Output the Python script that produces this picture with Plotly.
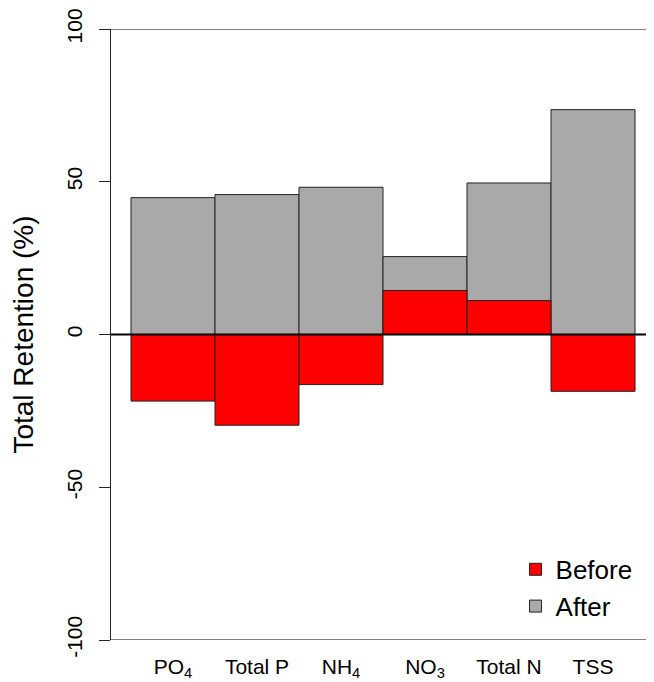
import plotly.graph_objects as go

categories = ["PO<sub>4</sub>", "Total P", "NH<sub>4</sub>", "NO<sub>3</sub>", "Total N", "TSS"]
after = [44.8, 45.8, 48.2, 25.5, 49.6, 73.6]
before = [-21.8, -29.7, -16.4, 14.4, 11.1, -18.6]
y_ticks = [-100, -50, 0, 50, 100]

x = list(range(len(categories)))

fig = go.Figure()
fig.add_trace(go.Bar(x=x, y=after, name="After", width=1,
                     marker=dict(color="#A9A9A9", line=dict(color="#222222", width=1))))
fig.add_trace(go.Bar(x=x, y=before, name="Before", width=1,
                     marker=dict(color="#FF0000", line=dict(color="#222222", width=1))))

# page body has an 8px default margin, so the figure is sized to fill the rest of the window
fig.update_layout(
    width=646, height=674,
    margin=dict(l=103, r=0, t=21, b=42, autoexpand=False),
    barmode="overlay",
    plot_bgcolor="white", paper_bgcolor="white",
    font=dict(family="Liberation Sans, Arial, sans-serif", color="black"),
    showlegend=True,
    legend=dict(x=0.745, y=0.154, xanchor="left", yanchor="top",
                traceorder="reversed", font=dict(size=26),
                bgcolor="rgba(0,0,0,0)", itemwidth=30, tracegroupgap=0),
    xaxis=dict(range=[-0.738, 5.726], tickmode="array", tickvals=x, ticktext=categories,
               showline=False, ticks="", showgrid=False, zeroline=False,
               automargin=False, ticklabelstandoff=12,
               tickfont=dict(size=21)),
    yaxis=dict(range=[-100, 100], tickmode="array", tickvals=y_ticks,
               ticktext=[str(v) for v in y_ticks], tickangle=-90,
               showline=True, linecolor="#222222", linewidth=1,
               ticks="outside", ticklen=11, tickcolor="#222222",
               showgrid=False, zeroline=False, automargin=False,
               ticklabelstandoff=9,
               tickfont=dict(size=21),
               title=dict(text="Total Retention (%)", font=dict(size=28), standoff=20)),
)

for yv in [100, -100]:
    fig.add_shape(type="line", xref="paper", yref="y", x0=0, x1=1, y0=yv, y1=yv,
                  line=dict(color="#555555", width=1.5), layer="above")
fig.add_shape(type="line", xref="paper", yref="y", x0=0, x1=1, y0=0, y1=0,
              line=dict(color="black", width=2), layer="above")

fig.write_html("out.html")
